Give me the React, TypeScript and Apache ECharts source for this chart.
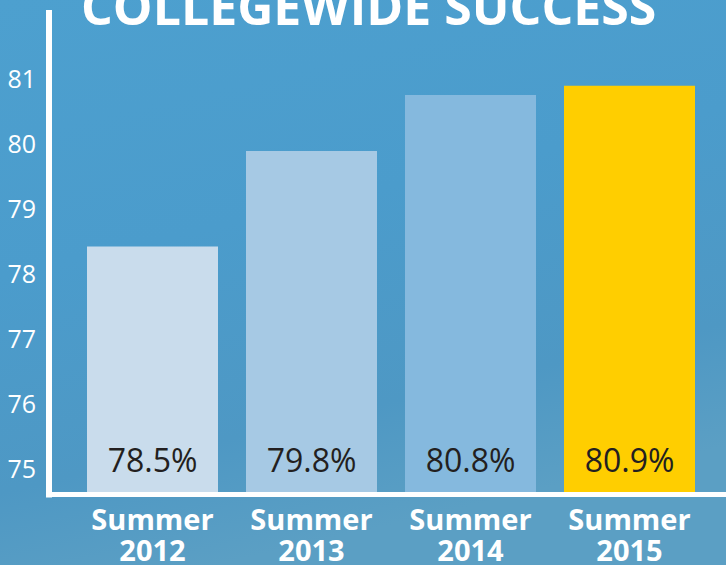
import React, { useEffect, useRef } from "react";
import * as echarts from "echarts";

const categories = ["Summer\n2012", "Summer\n2013", "Summer\n2014", "Summer\n2015"];
const values = [78.41, 79.88, 80.74, 80.88];
const valueLabels = ["78.5%", "79.8%", "80.8%", "80.9%"];
const barColors = ["#c9dcec", "#a6c9e4", "#85b9de", "#ffce00"];
const yTicks = [75, 76, 77, 78, 79, 80, 81];
const titleText = "COLLEGEWIDE SUCCESS";

export default function App() {
  const ref = useRef<HTMLDivElement>(null);
  useEffect(() => {
    if (!ref.current) return;
    const chart = echarts.init(ref.current, undefined, { renderer: "svg" });
    chart.setOption({
      animation: false,
      backgroundColor: {
        type: "linear",
        x: 0, y: 0, x2: 0.3, y2: 1,
        colorStops: [
          { offset: 0, color: "#4da0cf" },
          { offset: 0.45, color: "#4b9ccc" },
          { offset: 0.8, color: "#4e98c4" },
          { offset: 1, color: "#5b9fc4" },
        ],
      },
      graphic: [
        {
          type: "text",
          left: 81,
          top: -19,
          style: {
            text: titleText,
            fill: "#ffffff",
            font: "bold 50px 'Open Sans'",
          },
        },
      ],
      grid: [
        { left: 73, right: 17, top: 13, bottom: 73 },
        { left: 49, right: 0, top: 13, bottom: 70.5 },
      ],
      xAxis: [
        {
          type: "category",
          gridIndex: 0,
          data: categories,
          axisLine: { show: false },
          axisTick: { show: false },
          axisLabel: {
            color: "#ffffff",
            fontFamily: "'Open Sans'",
            fontWeight: "bold",
            fontSize: 29,
            lineHeight: 31,
            margin: 11,
          },
        },
        {
          type: "value",
          gridIndex: 1,
          min: 0,
          max: 1,
          axisLine: { show: true, lineStyle: { color: "#ffffff", width: 5, cap: "square" } },
          axisTick: { show: false },
          axisLabel: { show: false },
          splitLine: { show: false },
        },
      ],
      yAxis: [
        {
          type: "value",
          gridIndex: 0,
          min: 74.636,
          max: 82,
          axisLine: { show: false },
          axisTick: { show: false },
          splitLine: { show: false },
          axisLabel: {
            customValues: yTicks,
            color: "#ffffff",
            fontFamily: "'Open Sans'",
            fontSize: 25,
            margin: 37,
          },
        },
        {
          type: "value",
          gridIndex: 1,
          min: 0,
          max: 1,
          axisLine: { show: true, lineStyle: { color: "#ffffff", width: 6, cap: "square" } },
          axisTick: { show: false },
          axisLabel: { show: false },
          splitLine: { show: false },
        },
      ],
      series: [
        {
          type: "bar",
          xAxisIndex: 0,
          yAxisIndex: 0,
          barWidth: 131,
          data: values.map((v, i) => ({
            value: v,
            itemStyle: { color: barColors[i] },
            label: { formatter: valueLabels[i] },
          })),
          label: {
            show: true,
            position: "insideBottom",
            distance: 17,
            color: "#231f20",
            fontFamily: "'Open Sans'",
            fontSize: 32,
          },
        },
      ],
    });
    return () => chart.dispose();
  }, []);
  return <div ref={ref} style={{ width: 726, height: 565, position: "fixed", left: 0, top: 0 }} />;
}
